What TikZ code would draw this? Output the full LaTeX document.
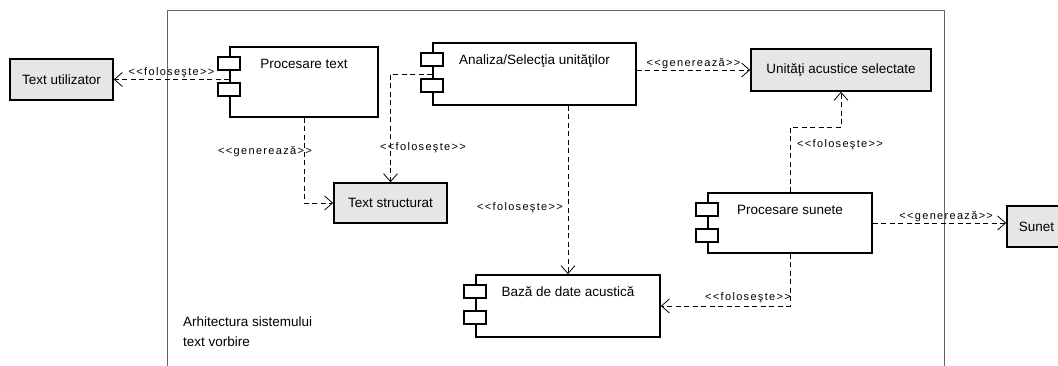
\documentclass[tikz,border=0pt]{standalone}
\usepackage{fontspec}
\setmainfont{Liberation Sans}
\newfontfamily\stereofont[LetterSpace=12,Ligatures=TeXOff]{Liberation Sans}
\usepackage{xcolor}
\definecolor{boxgray}{RGB}{230, 230, 230}
\definecolor{framegray}{RGB}{100, 100, 100}
\usepackage{tikz}
\usetikzlibrary{arrows.meta, positioning, calc}

\tikzset{
    artefact/.style={draw, line width=1.6pt, fill=boxgray, inner sep=0pt, font=\fontsize{13.5}{16}\selectfont},
    component/.style={draw, line width=1.6pt, fill=white, inner sep=0pt},
    plug/.style={draw, line width=1.6pt, fill=white},
    comptext/.style={inner sep=0pt, anchor=base, font=\fontsize{13.5}{16}\selectfont},
    stereo/.style={inner sep=1pt, font=\stereofont\fontsize{11}{13}\selectfont},
    dep/.style={line width=0.8pt, dash pattern=on 5pt off 3.5pt, -{Straight Barb[length=8pt, width=14pt]}},
}

\begin{document}
\begin{tikzpicture}[x=1pt, y=-1pt]
    \useasboundingbox (0,0) rectangle (1058,366);

    % system frame
    \draw[framegray, line width=1pt] (167,366) |- (944,11) -- (944,366);

    % artefacts
    \node[artefact, minimum width=103pt, minimum height=41pt] (tu) at (61.5,79.5) {Text utilizator};
    \node[artefact, minimum width=180pt, minimum height=42pt] (un) at (841,70) {Unităţi acustice selectate};
    \node[artefact, minimum width=113pt, minimum height=40pt] (ts) at (390.5,203) {Text structurat};
    \node[artefact, minimum width=59pt, minimum height=41pt] (su) at (1036.5,226.5) {Sunet};

    % components
    \node[component, minimum width=148pt, minimum height=70pt] (pt) at (304,82) {};
    \node[component, minimum width=203pt, minimum height=62pt] (an) at (534.5,74) {};
    \node[component, minimum width=164pt, minimum height=60pt] (ps) at (790,223) {};
    \node[component, minimum width=184pt, minimum height=62pt] (ba) at (568,306) {};

    \foreach \c in {pt,an,ps,ba}{
        \draw[plug] ([xshift=-11pt,yshift=-11pt]\c.north west) rectangle ([xshift=11pt,yshift=-24pt]\c.north west);
        \draw[plug] ([xshift=-11pt,yshift=-37pt]\c.north west) rectangle ([xshift=11pt,yshift=-50pt]\c.north west);
    }

    \node[comptext] (ptname) at ([yshift=-22.5pt]pt.north) {Procesare text};
    \node[comptext] (anname) at ([yshift=-22.5pt]an.north) {Analiza/Selecţia unităţilor};
    \node[comptext] (psname) at ([yshift=-22.5pt]ps.north) {Procesare sunete};
    \node[comptext] (baname) at ([yshift=-22.5pt]ba.north) {Bază de date acustică};

    % dependencies
    \draw[dep] (pt.west |- tu.east) -- (tu.east) node[stereo, midway, above=0pt] (d1) {<<foloseşte>>};
    \draw[dep] (pt.south) |- (ts.west);
    \node[stereo] (d2) at (265,152) {<<generează>>};
    \draw[dep] (an.west) -| (ts.north);
    \node[stereo] (d3) at (423,148) {<<foloseşte>>};
    \draw[dep] (an.east |- un.west) -- (un.west) node[stereo, midway, above=0pt] (d4) {<<generează>>};
    \draw[dep] (ba.north |- an.south) -- (ba.north);
    \node[stereo] (d5) at (520,208) {<<foloseşte>>};
    \draw[dep] (ps.north) -- ++(0,-65) -| (un.south);
    \node[stereo] (d6) at (840,145) {<<foloseşte>>};
    \draw[dep] (ps.east) -- (ps.east -| su.west) node[stereo, pos=0.55, above=0pt] (d7) {<<generează>>};
    \draw[dep] (ps.south) |- (ba.east);
    \node[stereo] (d8) at (748,298) {<<foloseşte>>};

    \node[anchor=north west, align=left, inner sep=0pt, font=\fontsize{13.5}{20}\selectfont] (caption) at (183,317) {Arhitectura sistemului\\text vorbire};
\end{tikzpicture}
\end{document}
